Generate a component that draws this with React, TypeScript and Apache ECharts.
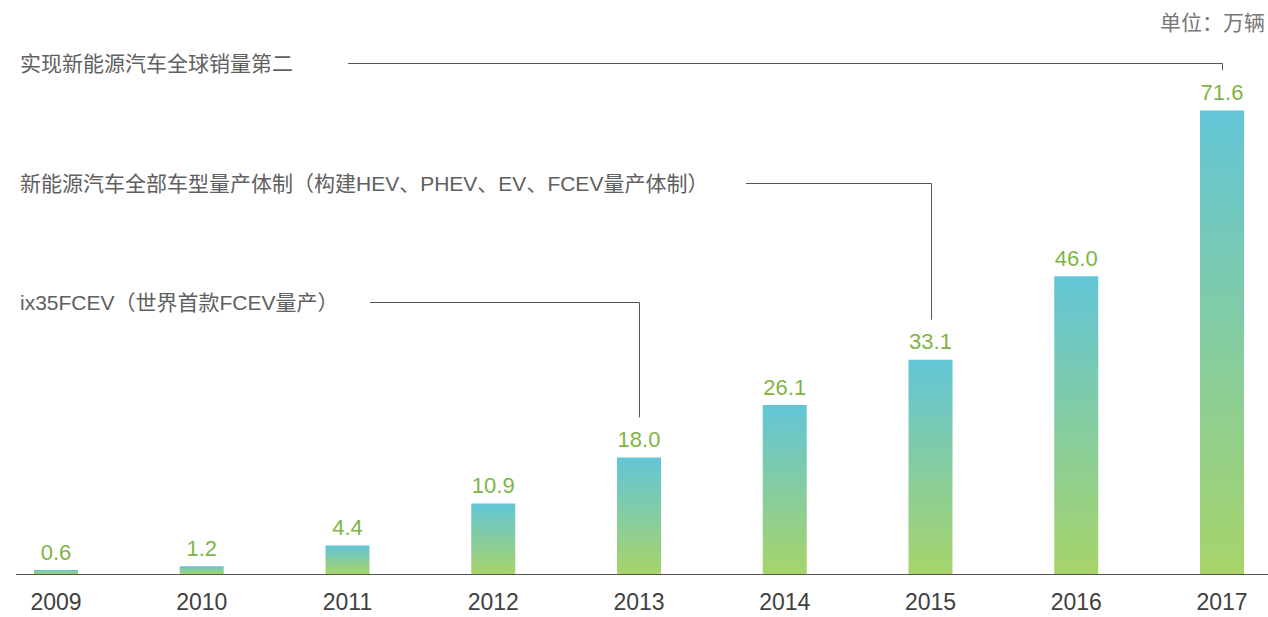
import React, { useEffect, useRef } from "react";
import * as echarts from "echarts";

const years = ["2009", "2010", "2011", "2012", "2013", "2014", "2015", "2016", "2017"];
const sales = [0.6, 1.2, 4.4, 10.9, 18.0, 26.1, 33.1, 46.0, 71.6];
const unitText = "单位：万辆";
const annotationTexts = [
  "实现新能源汽车全球销量第二",
  "新能源汽车全部车型量产体制（构建HEV、PHEV、EV、FCEV量产体制）",
  "ix35FCEV（世界首款FCEV量产）",
];
const annotationYears = ["2017", "2015", "2013"];

// layout (pixels)
const annotationRows = [63, 183, 302];
const annotationLineStart = [348, 746, 370];

const FONT = "'Liberation Sans', 'Noto Sans CJK SC', Arial, sans-serif";

export default function App() {
  const ref = useRef<HTMLDivElement>(null);
  useEffect(() => {
    document.body.style.margin = "0";
    const chart = echarts.init(ref.current!, undefined, { renderer: "svg" });
    chart.setOption({
      animation: false,
      grid: { left: 56, right: 46, top: 56, bottom: 43 },
      xAxis: {
        type: "category",
        data: years,
        boundaryGap: false,
        axisLine: { show: false },
        axisTick: { show: false },
        axisLabel: { fontSize: 23, color: "#404040", margin: 16, fontFamily: FONT },
      },
      yAxis: { type: "value", min: 0, max: 80, show: false, splitLine: { show: false } },
      series: [
        {
          type: "bar",
          data: sales,
          barWidth: 44,
          itemStyle: {
            color: new echarts.graphic.LinearGradient(0, 0, 0, 1, [
              { offset: 0, color: "#62c5d7" },
              { offset: 1, color: "#a7d46a" },
            ]),
          },
          label: {
            show: true,
            position: "top",
            distance: 7,
            fontSize: 22,
            color: "#7db544",
            fontFamily: FONT,
            formatter: (p: any) => Number(p.value).toFixed(1),
          },
        },
      ],
    });

    const graphics: any[] = [
      {
        type: "line",
        shape: { x1: 16, y1: 574.5, x2: 1268, y2: 574.5 },
        style: { stroke: "#555", lineWidth: 1 },
      },
      {
        type: "text",
        right: 3,
        top: 12,
        style: { text: unitText, fontSize: 21, fill: "#777", fontFamily: FONT },
      },
    ];
    annotationTexts.forEach((t, i) => {
      const idx = years.indexOf(annotationYears[i]);
      const p = chart.convertToPixel({ seriesIndex: 0 }, [idx, sales[idx]]) as number[];
      const rowY = annotationRows[i] + 0.5;
      graphics.push({
        type: "text",
        x: 20,
        y: annotationRows[i],
        style: {
          text: t,
          fontSize: 21,
          fill: "#606060",
          fontFamily: FONT,
          verticalAlign: "middle",
        },
      });
      graphics.push({
        type: "polyline",
        shape: {
          points: [
            [annotationLineStart[i], rowY],
            [Math.round(p[0]) + 0.5, rowY],
            [Math.round(p[0]) + 0.5, p[1] - 40],
          ],
        },
        style: { stroke: "#555", lineWidth: 1, fill: null },
      });
    });
    chart.setOption({ graphic: graphics });

    return () => chart.dispose();
  }, []);
  return <div ref={ref} style={{ width: 1268, height: 617 }} />;
}
